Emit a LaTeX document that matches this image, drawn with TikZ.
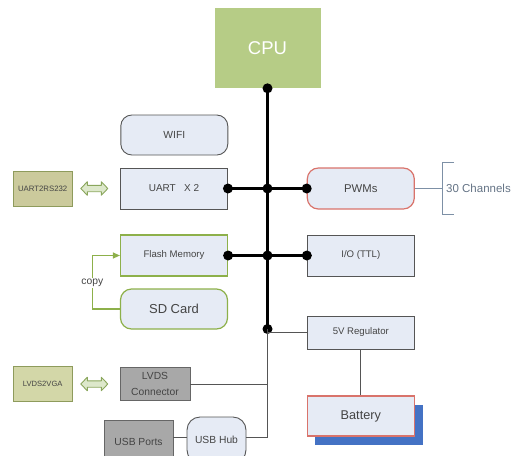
\documentclass[tikz,border=0pt]{standalone}
\usepackage{fontspec}
\setmainfont{Liberation Sans}
\usetikzlibrary{arrows.meta}

\definecolor{cpugreen}{HTML}{B6CC86}
\definecolor{boxfill}{HTML}{E6EBF5}
\definecolor{boxline}{HTML}{555555}
\definecolor{greenline}{HTML}{8DB04A}
\definecolor{redline}{HTML}{D9736B}
\definecolor{olivefill}{HTML}{CBCA9C}
\definecolor{oliveline}{HTML}{8E9B5C}
\definecolor{vgafill}{HTML}{D3D7A8}
\definecolor{grayfill}{HTML}{A8A8A8}
\definecolor{grayline}{HTML}{666666}
\definecolor{arrowfill}{HTML}{DDE8CB}
\definecolor{arrowline}{HTML}{8AA65C}
\definecolor{bracketc}{HTML}{7D90A6}
\definecolor{labelc}{HTML}{444444}
\definecolor{shadowblue}{HTML}{4472C4}

\newcommand{\fs}[1]{\fontsize{#1}{#1}\selectfont}

\begin{document}
\begin{tikzpicture}[x=1pt,y=-1pt,
  box/.style={draw=boxline, fill=boxfill, line width=0.9pt, inner sep=0pt,
    minimum width=107pt, minimum height=41pt, text=labelc, font=\fs{9.6}},
  rbox/.style={box, rounded corners=11pt},
  olivebox/.style={draw=oliveline, fill=olivefill, line width=0.9pt, inner sep=0pt,
    minimum width=59pt, minimum height=35pt, text=labelc, font=\fs{7.8}},
  graybox/.style={draw=grayline, fill=grayfill, line width=0.9pt, inner sep=0pt,
    minimum width=69pt, text=labelc, font=\fs{10.3}, align=center},
  bus/.style={line width=3.8pt},
  wire/.style={draw=boxline, line width=1pt},
  dot/.style={fill=black},
  dblarrow/.style={draw=arrowline, fill=arrowfill, line width=0.9pt, line join=round}
]
\useasboundingbox (0,0) rectangle (518,455);

% processor
\node[fill=cpugreen, minimum width=106pt, minimum height=80pt, inner sep=0pt,
      text=white, font=\fs{18.5}] (cpu) at (267.5,48.2) {CPU};

% peripheral blocks
\node[rbox, minimum height=40pt, font=\fs{10.3}] (wifi) at (174.3,135) {WIFI};
\node[box, font=\fs{10}] (uart) at (174,188.5) {UART\ \ \ X 2};
\node[rbox, draw=redline, line width=1.2pt, font=\fs{11.3}] (pwm) at (360.8,188.5) {PWMs};
\node[box, draw=greenline, line width=1.2pt] (flash) at (174,255.5) {Flash Memory};
\node[box] (io) at (360.8,255.5) {I/O (TTL)};
\node[rbox, draw=greenline, line width=1.2pt, minimum height=40pt, font=\fs{13}] (sd) at (174,309) {SD Card};
\node[box, minimum height=33pt] (reg) at (360.8,332.5) {5V Regulator};

% battery with its offset shadow
\fill[shadowblue] (315,405) rectangle (423,445);
\node[box, draw=redline, line width=1.2pt, minimum height=40pt, font=\fs{12.7}] (bat) at (360.8,416) {Battery};

% converters on the left
\node[olivebox] (rs) at (42.7,188.8) {UART2RS232};
\node[olivebox, fill=vgafill, font=\fs{7.6}] (vga) at (42.7,384) {LVDS2VGA};

% connectors at the bottom
\node[graybox, minimum width=70pt, minimum height=33.5pt] (lvds) at (155,384) {LVDS\\[6pt]Connector};
\node[graybox, minimum height=44pt] (ports) at (138.5,442) {USB Ports};
\node[rbox, rounded corners=13pt, minimum width=59pt, minimum height=46pt, font=\fs{10.3}] (hub) at (216.5,440) {USB Hub};

% bus junctions
\coordinate (top) at (267.5,88.3);
\coordinate (j1) at (267.5,188.5);
\coordinate (j2) at (267.5,255.5);
\coordinate (j3) at (267.5,329);
\coordinate (jl) at (267.5,384);
\coordinate (jh) at (267.5,437.5);

% main bus
\draw[bus] (top) -- (j3);
\draw[bus] (uart.east) -- (pwm.west);
\draw[bus] (flash.east) -- (io.west);
\foreach \p in {top,j1,j2,j3} \fill[dot] (\p) circle (5pt);
\fill[dot] (uart.east) circle (5pt);
\fill[dot] (pwm.west) circle (5pt);
\fill[dot] (flash.east) circle (5pt);
\fill[dot] (io.west) circle (5pt);

% thin supply and low-speed lines
\draw[wire] (j3) -- (jh);
\draw[wire] (j3 |- reg.west) -- (reg.west);
\draw[wire] (reg.south) -- (bat.north);
\draw[wire] (lvds.east) -- (jl);
\draw[wire] (hub.east |- jh) -- (jh);
\draw[wire] (ports.east |- jh) -- (hub.west |- jh);

% PWM channel bracket
\coordinate (br) at (442,188.5);
\draw[draw=bracketc, line width=0.9pt] (pwm.east) -- (br);
\draw[draw=bracketc, line width=0.9pt] (454,162) -- (442,162) -- (442,214) -- (454,214);
\node[anchor=west, text=bracketc!80!black, font=\fs{11.5}, inner sep=0pt] (ch) at (446,188.5) {30 Channels};

% copy path from SD card to flash
\coordinate (cp) at (92.3,283);
\draw[draw=greenline, line width=1.2pt, -{Triangle[length=7pt,width=6pt]}]
  (sd.west) -| (cp) |- (flash.west);
\node[fill=white, inner sep=1pt, text=labelc, font=\fs{10.3}] (copy) at (cp) {copy};

% double-headed transfer arrows
\foreach \c in {(94.3,188.5),(94.3,384)} {
  \draw[dblarrow, shift={\c}]
    (-13.5,0) -- (-7,-6.8) -- (-7,-3.2) -- (7,-3.2) -- (7,-6.8) -- (13.5,0)
    -- (7,6.8) -- (7,3.2) -- (-7,3.2) -- (-7,6.8) -- cycle;
}
\end{tikzpicture}
\end{document}
